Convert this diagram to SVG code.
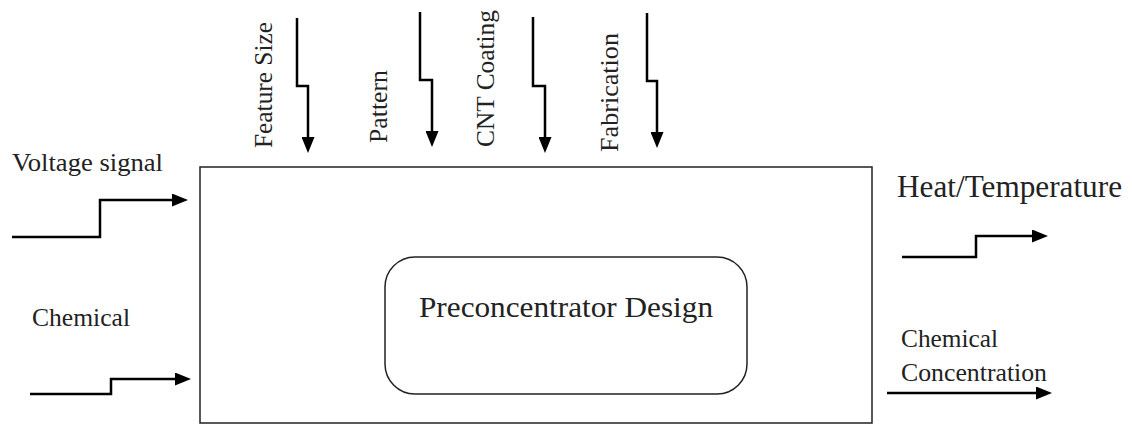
<svg xmlns="http://www.w3.org/2000/svg" width="1132" height="424" viewBox="0 0 1132 424">
<style>
.t{font-family:"Liberation Serif","Times New Roman",serif;fill:#222;}
.s{font-size:26px;}
.c{fill:none;stroke:#000;stroke-width:2.5;marker-end:url(#ah);}
.box{fill:#fff;stroke:#222;stroke-width:1.5;}
</style>
<defs>
<marker id="ah" viewBox="0 0 16 13" refX="8" refY="6.5" markerWidth="16" markerHeight="13" markerUnits="userSpaceOnUse" orient="auto">
<path d="M0,0 L16,6.5 L0,13 z" fill="#000"/>
</marker>
</defs>
<rect width="1132" height="424" fill="#fff"/>
<g id="system">
<rect class="box" x="200" y="167" width="672" height="256"/>
</g>
<g id="design">
<rect class="box" x="385" y="257" width="362" height="137" rx="30" ry="30"/>
<text class="t" x="419" y="317" font-size="29" textLength="294" lengthAdjust="spacingAndGlyphs">Preconcentrator Design</text>
</g>
<g id="labels">
<text class="t s" x="12" y="171" textLength="151" lengthAdjust="spacingAndGlyphs">Voltage signal</text>
<text class="t s" x="32" y="326" textLength="98" lengthAdjust="spacingAndGlyphs">Chemical</text>
<text class="t" x="897" y="197" font-size="31" textLength="225" lengthAdjust="spacingAndGlyphs">Heat/Temperature</text>
<text class="t s" x="901" y="347" textLength="97" lengthAdjust="spacingAndGlyphs">Chemical</text>
<text class="t s" x="901" y="381" textLength="146" lengthAdjust="spacingAndGlyphs">Concentration</text>
<text class="t s" transform="translate(272,148) rotate(-90)" textLength="126" lengthAdjust="spacingAndGlyphs">Feature Size</text>
<text class="t s" transform="translate(387,143) rotate(-90)" textLength="73" lengthAdjust="spacingAndGlyphs">Pattern</text>
<text class="t s" transform="translate(494,147) rotate(-90)" textLength="137" lengthAdjust="spacingAndGlyphs">CNT Coating</text>
<text class="t s" transform="translate(618,152) rotate(-90)" textLength="119" lengthAdjust="spacingAndGlyphs">Fabrication</text>
</g>
<g id="connectors">
<path class="c" d="M12,237 H100 V200 H180"/>
<path class="c" d="M30,394 H111 V379 H183"/>
<path class="c" d="M902,257 H976 V236 H1040"/>
<path class="c" d="M887,393 H1044"/>
<path class="c" d="M297,18 V86 H308 V145"/>
<path class="c" d="M420,12 V80 H432 V139"/>
<path class="c" d="M533,17 V86 H545 V145"/>
<path class="c" d="M647,13 V81 H657 V140"/>
</g>
</svg>
